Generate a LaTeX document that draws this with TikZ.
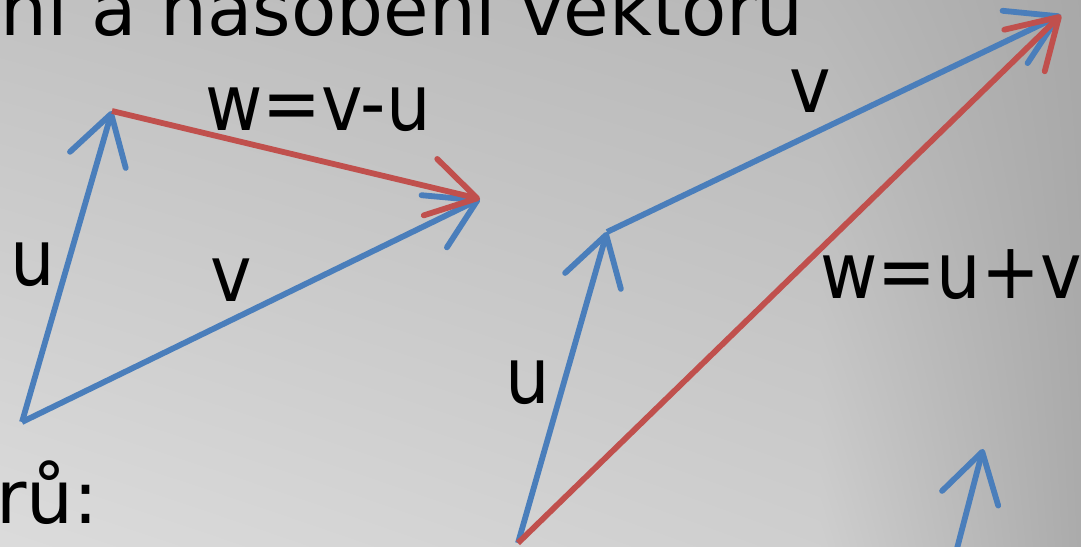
\documentclass[tikz,border=0pt]{standalone}
\usepackage{fontspec}
\setmainfont{DejaVu Sans}
\newfontfamily\labelfont{DejaVu Sans Condensed}
\usetikzlibrary{arrows.meta,shadings}
\definecolor{vblue}{HTML}{4A7EBB}
\definecolor{vred}{HTML}{C0504D}
\begin{document}
\begin{tikzpicture}[x=1pt, y=-1pt,
  vec/.style={line width=5.8pt, -{Straight Barb[length=48pt,width=58pt,round]}},
  lbl/.style={font=\labelfont\fontsize{78}{90}\selectfont, inner sep=0pt, anchor=base},
  body/.style={font=\fontsize{74}{86}\selectfont, inner sep=0pt, anchor=base east}]
  \useasboundingbox (0,0) rectangle (1081,546);
  \clip (0,0) rectangle (1081,546);
  % background
  \shade[upper left=black!24, upper right=black!28, lower left=black!14, lower right=black!19]
    (0,0) rectangle (821,546);
  \shade[upper left=black!28, upper right=black!34, lower left=black!19, lower right=black!33]
    (820,0) rectangle (1081,546);
  % title and bullet, cut by the frame
  \node[body] (title) at (804,35) {ní a násobení vektorů};
  \node[body] (bullet) at (99,523) {rů:};
  % difference
  \coordinate (o1) at (22,422);
  \coordinate (u1) at (112,111);
  \coordinate (v1) at (480,199);
  \draw[vec, vblue] (o1) -- (u1);
  \draw[vec, vblue] (o1) -- (v1);
  \draw[vec, vred] (u1) -- (v1);
  \node[lbl] (u1lbl) at (33,285) {u};
  \node[lbl] (v1lbl) at (231,301) {v};
  \node[lbl] (w1lbl) at (318,130) {w=v-u};
  % sum
  \coordinate (o2) at (518,543);
  \coordinate (u2) at (607,232);
  \coordinate (s2) at (1061,15);
  \draw[vec, vblue] (o2) -- (u2);
  \draw[vec, vblue] (u2) -- (s2);
  \draw[vec, vred] (o2) -- (s2);
  \node[lbl] (u2lbl) at (528,403) {u};
  \node[lbl] (v2lbl) at (810,112) {v};
  \node[lbl] (w2lbl) at (951,298) {w=u+v};
  % next vector, cut at the bottom
  \coordinate (o3) at (954,560);
  \coordinate (u3) at (983,449);
  \draw[vec, vblue] (o3) -- (u3);
\end{tikzpicture}
\end{document}
